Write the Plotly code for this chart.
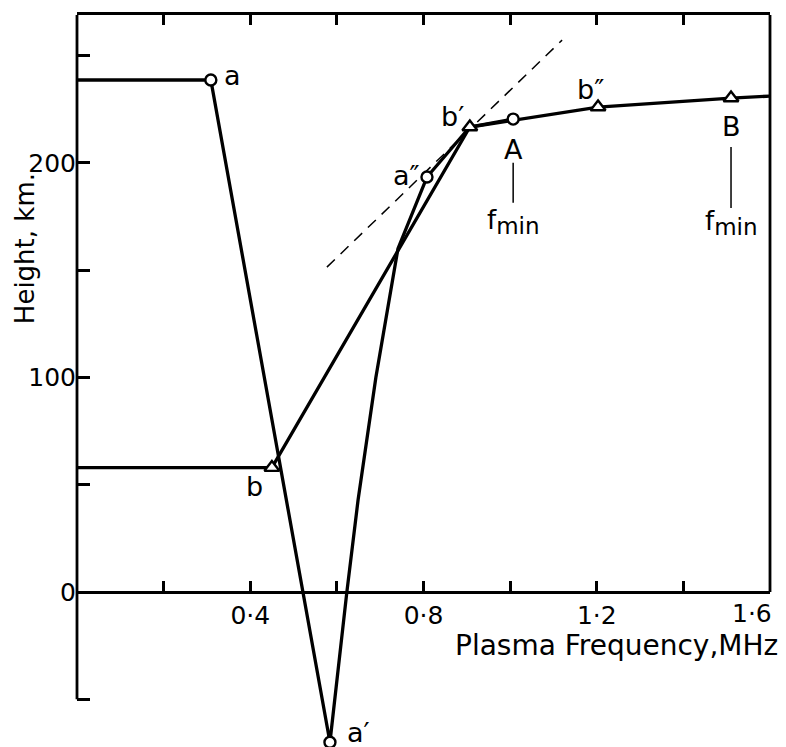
import plotly.graph_objects as go

# ---- data ----
# curve through the "a" points (circles)
curve_a_f = [0.0, 0.309, 0.584, 0.623, 0.649, 0.690, 0.741, 0.808, 0.907, 1.007]
curve_a_h = [238.6, 238.6, -70.0, 0.0, 43.0, 100.0, 160.0, 193.4, 216.7, 220.4]
circle_f = [0.309, 0.584, 0.808, 1.007]
circle_h = [238.6, -70.0, 193.4, 220.4]
circle_labels = ["a", "a′", "a″", "A"]

# curve through the "b" points (triangles)
curve_b_f = [0.0, 0.450, 0.907, 1.203, 1.510, 1.6]
curve_b_h = [58.0, 58.0, 216.7, 226.0, 230.2, 231.1]
tri_f = [0.450, 0.907, 1.203, 1.510]
tri_h = [58.0, 216.7, 226.0, 230.2]
tri_labels = ["b", "b′", "b″", "B"]

# dashed tangent line
dash_f = [0.577, 1.120]
dash_h = [151.4, 257.2]

x_tickvals = [0.2, 0.4, 0.6, 0.8, 1.0, 1.2, 1.4, 1.6]
x_ticktext = ["", "0·4", "", "0·8", "", "1·2", "", ""]
last_x_label = "1·6"
y_tickvals = [-50, 0, 50, 100, 150, 200, 250]
y_ticktext = ["", "0", "", "100", "", "200", ""]

X_RANGE = [0.0, 1.6]
Y_RANGE = [-72.2, 268.9]

FONT = "DejaVu Sans"
BLACK = "black"

fig = go.Figure()

fig.add_trace(go.Scatter(x=dash_f, y=dash_h, mode="lines",
                         line=dict(color=BLACK, width=1.5, dash="11px,8px"),
                         hoverinfo="skip", showlegend=False))
fig.add_trace(go.Scatter(x=curve_a_f, y=curve_a_h, mode="lines",
                         line=dict(color=BLACK, width=3.3), cliponaxis=False,
                         showlegend=False))
fig.add_trace(go.Scatter(x=curve_b_f, y=curve_b_h, mode="lines",
                         line=dict(color=BLACK, width=3.3), cliponaxis=False,
                         showlegend=False))
fig.add_trace(go.Scatter(x=circle_f, y=circle_h, mode="markers",
                         marker=dict(symbol="circle", size=11, color="white",
                                     line=dict(color=BLACK, width=2.4)),
                         cliponaxis=False, showlegend=False))
fig.add_trace(go.Scatter(x=tri_f, y=tri_h, mode="markers",
                         marker=dict(symbol="triangle-up", size=13, color="white",
                                     line=dict(color=BLACK, width=2.4)),
                         cliponaxis=False, showlegend=False))

# leader lines under A and B (f_min markers)
for f, top, bot in [(circle_f[3], 200.0, 181.4), (tri_f[3], 207.4, 179.0)]:
    fig.add_trace(go.Scatter(x=[f, f], y=[top, bot], mode="lines",
                             line=dict(color=BLACK, width=1.5),
                             hoverinfo="skip", showlegend=False))

# invisible trace so that the top (mirror) axis is drawn
fig.add_trace(go.Scatter(x=[0.5], y=[0], xaxis="x2", mode="markers",
                         marker=dict(opacity=0), hoverinfo="skip", showlegend=False))

lab_font = dict(family=FONT, size=27, color=BLACK)
# point labels: (text, x, y, xshift, yshift)
point_labels = [
    (circle_labels[0], circle_f[0], circle_h[0], 22, 5),
    (circle_labels[1], circle_f[1], circle_h[1], 29, 10),
    (circle_labels[2], circle_f[2], circle_h[2], -20, 2),
    (circle_labels[3], circle_f[3], circle_h[3], 0, -30),
    (tri_labels[0], tri_f[0], tri_h[0], -17, -19),
    (tri_labels[1], tri_f[1], tri_h[1], -17, 11),
    (tri_labels[2], tri_f[2], tri_h[2], -8, 18),
    (tri_labels[3], tri_f[3], tri_h[3], 0, -28),
]
for t, x, y, xs, ys in point_labels:
    fig.add_annotation(x=x, y=y, text=t, showarrow=False, xshift=xs, yshift=ys,
                       font=lab_font, xanchor="center", yanchor="middle")

fmin_text = "f<sub><span style='font-size:23px'>min</span></sub>"
for f, h in [(circle_f[3], 172.5), (tri_f[3], 172.0)]:
    fig.add_annotation(x=f, y=h, text=fmin_text, showarrow=False,
                       font=dict(family=FONT, size=26, color=BLACK),
                       xanchor="center", yanchor="middle")

# last x tick label, kept inside the page like in the original
fig.add_annotation(x=x_tickvals[-1], y=0, text=last_x_label, showarrow=False,
                   xanchor="right", yanchor="top", xshift=4, yshift=-5,
                   font=dict(family=FONT, size=25, color=BLACK))

# axis titles
fig.add_annotation(x=1.0145, xref="paper", y=-24.7, yref="y",
                   text="Plasma Frequency,MHz", showarrow=False,
                   font=dict(family=FONT, size=28, color=BLACK),
                   xanchor="right", yanchor="middle")
fig.add_annotation(x=-0.075, xref="paper", y=159.8, yref="y",
                   text="Height, km.", showarrow=False, textangle=-90,
                   font=dict(family=FONT, size=26, color=BLACK),
                   xanchor="center", yanchor="middle")

# frame: left axis line (stops at -50) and right border (stops at 0)
fig.add_shape(type="line", xref="paper", yref="y", x0=0, x1=0,
              y0=y_tickvals[0], y1=Y_RANGE[1], line=dict(color=BLACK, width=2.8))
fig.add_shape(type="line", xref="paper", yref="y", x0=1, x1=1,
              y0=0, y1=Y_RANGE[1], line=dict(color=BLACK, width=2.8))

zero_pos = (0 - Y_RANGE[0]) / (Y_RANGE[1] - Y_RANGE[0])

fig.update_layout(
    width=786, height=747,
    margin=dict(l=77, r=16, t=15, b=0, autoexpand=False),
    paper_bgcolor="white", plot_bgcolor="white",
    font=dict(family=FONT, size=26, color=BLACK),
    xaxis=dict(range=X_RANGE, anchor="free", position=zero_pos,
               automargin=False,
               showline=True, linecolor=BLACK, linewidth=2.8,
               ticks="inside", ticklen=10, tickwidth=2.5, tickcolor=BLACK,
               tickvals=x_tickvals, ticktext=x_ticktext,
               tickfont=dict(family=FONT, size=25, color=BLACK),
               showgrid=False, zeroline=False),
    xaxis2=dict(range=X_RANGE, overlaying="x", side="top", anchor="y",
                automargin=False,
                showline=True, linecolor=BLACK, linewidth=2.8,
                ticks="inside", ticklen=10, tickwidth=2.5, tickcolor=BLACK,
                tickvals=x_tickvals[:-1], showticklabels=False,
                showgrid=False, zeroline=False),
    yaxis=dict(range=Y_RANGE, showline=False, automargin=False,
               ticks="inside", ticklen=13, tickwidth=2.5, tickcolor=BLACK,
               tickvals=y_tickvals, ticktext=y_ticktext,
               tickfont=dict(family=FONT, size=25, color=BLACK),
               showgrid=False, zeroline=False),
)

fig.write_html("out.html")
